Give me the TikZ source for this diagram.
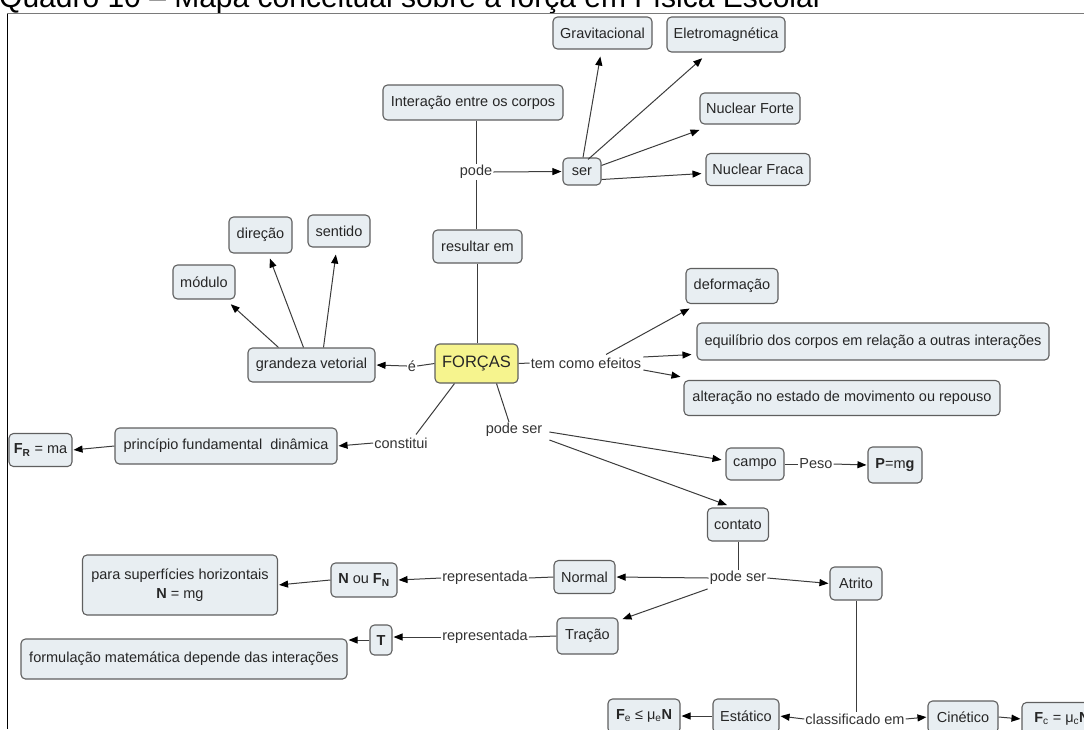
\documentclass[tikz,border=0pt]{standalone}
\usepackage{fontspec}
\setmainfont{Liberation Sans}
\usetikzlibrary{arrows.meta,calc}
\definecolor{boxfill}{HTML}{E8EEF2}
\definecolor{boxdraw}{HTML}{5F5F5F}
\definecolor{lnk}{HTML}{3C3C3C}
\definecolor{yel}{HTML}{F6F48E}
\definecolor{framegray}{HTML}{7A7A7A}
\begin{document}
\begin{tikzpicture}[x=1pt,y=-1pt,
  concept/.style={draw=boxdraw, line width=1.1pt, rounded corners=4.5pt, fill=boxfill,
    font=\fontsize{14.5}{17}\selectfont, text=black!85, inner sep=0pt, align=center},
  sz/.style 2 args={minimum width=#1pt, minimum height=#2pt},
  lp/.style={font=\fontsize{14.5}{17}\selectfont, text=black!80, inner sep=1pt},
  ln/.style={draw=lnk, line width=1pt},
  arr/.style={draw=lnk, line width=1pt, shorten >=1pt,
    -{Triangle[length=9pt,width=7pt,color=black]}}
]
\useasboundingbox (0,0) rectangle (1084,729);
\clip (0,0) rectangle (1084,729);

% title (cut at the top) and frame
\node[anchor=base west, inner sep=0pt, font=\fontsize{30}{30}\selectfont] (title) at (-1,7.5)
  {Quadro 10 – Mapa conceitual sobre a força em Física Escolar};
\coordinate (ftl) at (7.3,13.5);
\coordinate (ftr) at (1084,13.5);
\coordinate (fbl) at (7.3,729);
\draw[framegray, line width=1.7pt] (ftl) -- (ftr);
\draw[black, line width=1pt] (ftl) -- (fbl);

% concepts
\node[concept, sz={99}{32}]  (grav)    at (602.5,33)  {Gravitacional};
\node[concept, sz={118}{35}] (eletro)  at (726,34.5)  {Eletromagnética};
\node[concept, sz={180}{35}] (inter)   at (473,102.5) {Interação entre os corpos};
\node[concept, sz={100}{31}] (nforte)  at (750,108.5) {Nuclear Forte};
\node[concept, sz={104}{32}] (nfraca)  at (758,169.5) {Nuclear Fraca};
\node[concept, sz={38}{27}]  (ser)     at (582,171.5) {ser};
\node[concept, sz={63}{36}]  (direcao) at (260.5,235) {direção};
\node[concept, sz={62}{32}]  (sentido) at (339,231)   {sentido};
\node[concept, sz={89}{33}]  (resultar) at (477.5,246.5) {resultar em};
\node[concept, sz={62}{34}]  (modulo)  at (204,282)   {módulo};
\node[concept, sz={92}{35}]  (deform)  at (732,286)   {deformação};
\node[concept, sz={352}{37}] (equil)   at (873,341.5) {equilíbrio dos corpos em relação a outras interações};
\node[concept, sz={127}{34}] (grand)   at (311.5,365) {grandeza vetorial};
\node[concept, sz={83}{39}, fill=yel, font=\fontsize{16.5}{19}\selectfont] (forcas) at (476.5,363.5) {FORÇAS};
\node[concept, sz={316}{35}] (alter)   at (842,398)   {alteração no estado de movimento ou repouso};
\node[concept, sz={63}{33}]  (fr)      at (40.5,450)  {\textbf{F}\textsubscript{\textbf{R}} = ma};
\node[concept, sz={222}{36}] (princ)   at (226,446)   {princípio fundamental\ \ dinâmica};
\node[concept, sz={58}{32}]  (campo)   at (755,464)   {campo};
\node[concept, sz={54}{36}]  (pmg)     at (895,465)   {\textbf{P}=m\textbf{g}};
\node[concept, sz={61}{33}]  (contato) at (738,524.5) {contato};
\node[concept, sz={61}{33}]  (normal)  at (584.5,577) {Normal};
\node[concept, sz={52}{33}]  (atrito)  at (856,583.5) {Atrito};
\node[concept, sz={66}{34}]  (nfn)     at (364,580)   {\textbf{N} ou \textbf{F}\textsubscript{\textbf{N}}};
\node[concept, sz={195}{60}, font=\fontsize{14.5}{19}\selectfont] (para) at (180,585) {para superfícies horizontais\\\textbf{N} = mg};
\node[concept, sz={61}{36}]  (tracao)  at (587.5,636) {Tração};
\node[concept, sz={22}{30}]  (tt)      at (381,640)   {\textbf{T}};
\node[concept, sz={326}{40}] (formul)  at (184,659)   {formulação matemática depende das interações};
\node[concept, sz={66}{34}]  (estatico) at (746,716)  {Estático};
\node[concept, sz={72}{34}]  (fele)    at (644,716)   {\textbf{F}\textsubscript{e} ≤ μ\textsubscript{e}\textbf{N}};
\node[concept, sz={70}{32}]  (cinetico) at (963,717)  {Cinético};
\node[concept, sz={80}{33}]  (fc)      at (1062,719)  {\textbf{F}\textsubscript{c} = μ\textsubscript{c}\textbf{N}};

% linking phrases
\node[lp] (pode)      at (476,172) {pode};
\node[lp] (e)         at (412,366) {é};
\node[lp] (tem)       at (586,363) {tem como efeitos};
\node[lp] (constitui) at (401,443) {constitui};
\node[lp] (ps1)       at (514,430) {pode ser};
\node[lp] (peso)      at (816,464) {Peso};
\node[lp] (ps2)       at (738,578) {pode ser};
\node[lp] (rep1)      at (485,578) {representada};
\node[lp] (rep2)      at (485,637) {representada};
\node[lp] (classif)   at (855,719) {classificado em};

% connectors
\draw[ln] (inter.south -| pode.north) -- (pode.north);
\draw[ln] (pode.south) -- (pode.south |- resultar.north);
\draw[ln] (resultar.south) -- (resultar.south |- forcas.north);
\draw[arr] (pode.east) -- (ser.west);
\draw[arr] ([xshift=1pt]ser.north) -- ($(grav.south)+(-2,6)$);
\draw[arr] ($(ser.north)+(6,2)$) -- ($(eletro.south)+(-23,5)$);
\draw[arr] ($(ser.north east)+(0,8)$) -- ($(nforte.south west)+(1,5)$);
\draw[arr] ($(ser.east)+(0,8)$) -- ($(nfraca.west)+(-3,4)$);

\draw[ln] (forcas.west) -- (e.east);
\draw[arr] (e.west) -- (grand.east);
\draw[arr] ($(grand.north)+(-33,0)$) -- ($(modulo.south)+(26,4)$);
\draw[arr] ($(grand.north)+(-8,0)$) -- ($(direcao.south)+(9,4)$);
\draw[arr] ($(grand.north)+(12,0)$) -- ($(sentido.south)+(-3,6)$);

\draw[ln] (forcas.east) -- (tem.west);
\draw[arr] ($(tem.north)+(20,-2)$) -- ($(deform.south west)+(5,4)$);
\draw[arr] ($(tem.east)+(1,-6)$) -- ($(equil.west)+(-4,13)$);
\draw[arr] ($(tem.east)+(1,7)$) -- ($(alter.north west)+(-2,-3)$);

\draw[ln] ($(forcas.south)+(-22,0)$) -- ($(constitui.north)+(15,-2)$);
\draw[arr] (constitui.west) -- (princ.east);
\draw[arr] (princ.west) -- (fr.east);
\draw[ln] ($(forcas.south)+(20,0)$) -- ($(ps1.north)+(-5,0)$);
\draw[arr] ($(ps1.east)+(6,2)$) -- ($(campo.west)+(-3,-4)$);
\draw[arr] ($(ps1.east)+(6,10)$) -- ($(contato.north)+(-10,-2)$);
\draw[ln] (campo.east) -- (peso.west);
\draw[arr] (peso.east) -- (pmg.west);

\draw[ln] (contato.south) -- (contato.south |- ps2.north);
\draw[arr] (ps2.west) -- (normal.east);
\draw[arr] (ps2.east) -- (atrito.west);
\draw[arr] ($(ps2.south west)+(-1,3)$) -- ($(tracao.north east)+(3,2)$);
\draw[ln] (normal.west) -- (rep1.east);
\draw[arr] (rep1.west) -- (nfn.east);
\draw[arr] (nfn.west) -- (para.east);
\draw[ln] (tracao.west) -- (rep2.east);
\draw[arr] (rep2.west) -- (rep2.west -| tt.east);
\draw[arr] (tt.west) -- (tt.west -| formul.east);

\draw[ln] (atrito.south) -- (atrito.south |- classif.north);
\draw[arr] (classif.west) -- (estatico.east);
\draw[arr] (classif.east) -- (cinetico.west);
\draw[arr] (estatico.west) -- (fele.east);
\draw[arr] (cinetico.east) -- (fc.west);
\end{tikzpicture}
\end{document}
